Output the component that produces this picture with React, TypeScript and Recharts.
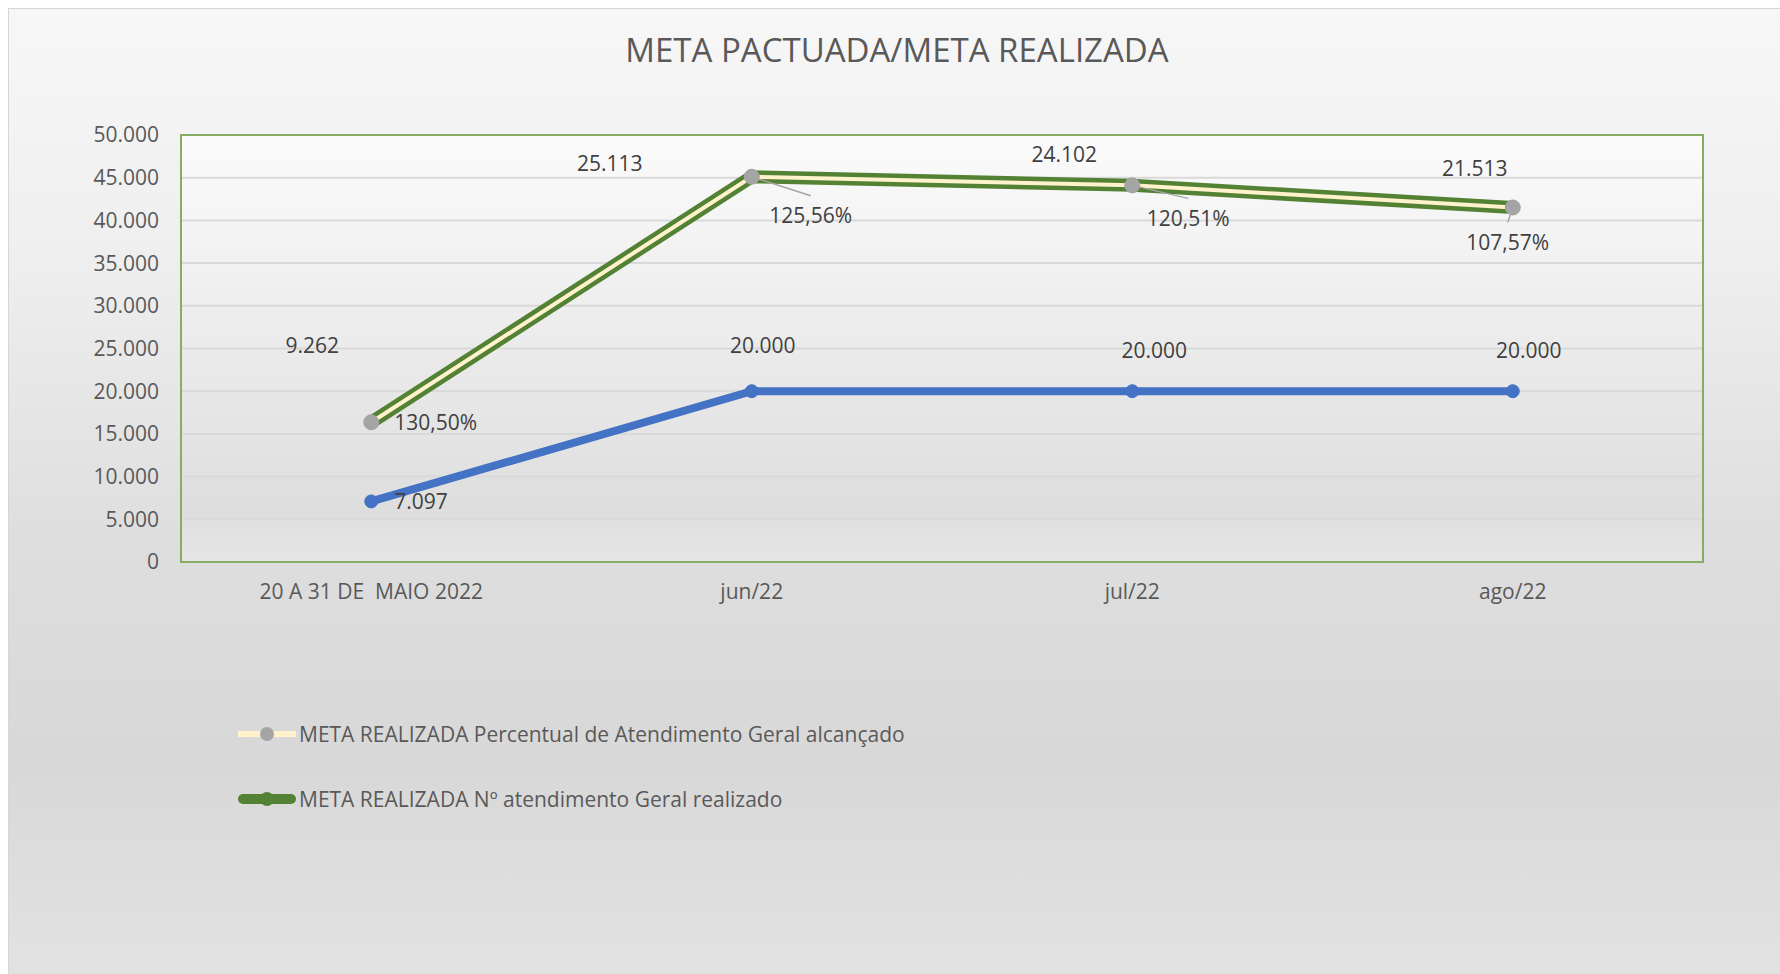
import {
  AreaChart, Area, XAxis, YAxis, CartesianGrid,
  Legend, LabelList, ReferenceArea,
} from "recharts";

const categories = ["20 A 31 DE  MAIO 2022", "jun/22", "jul/22", "ago/22"];
const metaPactuada = [7097, 20000, 20000, 20000];
const atendimentoRealizado = [9262, 25113, 24102, 21513];
const percentualAlcancado = [1.305, 1.2556, 1.2051, 1.0757];
const yTicks = [0, 5000, 10000, 15000, 20000, 25000, 30000, 35000, 40000, 45000, 50000];

const seriesNames = {
  pactuada: "META PACTUADA",
  realizado: "META REALIZADA Nº atendimento Geral realizado",
  percentual: "META REALIZADA Percentual de Atendimento Geral alcançado",
};

const data = categories.map((cat, i) => ({
  cat,
  pactuada: metaPactuada[i],
  realizado: atendimentoRealizado[i],
  percentual: percentualAlcancado[i],
}));

// hand-placed label offsets, as in the original sheet
const pactuadaNudge = [[23, 0], [11, -46], [22, -41], [16, -41]];
const realizadoNudge = [[-59, -77], [-142, -13], [-68, -31], [-38, -39]];
const percentNudge = [[23, 0], [59, 39], [56, 33], [-5, 35]];

const FONT = "'Open Sans', sans-serif";
const LABEL_COLOR = "#404040";
const TICK_COLOR = "#595959";

const fmtThousands = (v: number) => String(v).replace(/\B(?=(\d{3})+(?!\d))/g, ".");
const fmtPct = (v: number) => (v * 100).toFixed(2).replace(".", ",") + "%";

const pos = (p: any) => ({
  x: Number(p.x ?? p.viewBox?.x),
  y: Number(p.y ?? p.viewBox?.y),
});

const PactuadaLabel = (props: any) => {
  const { x, y } = pos(props);
  const i = props.index;
  const [dx, dy] = pactuadaNudge[i];
  return (
    <text
      x={x + dx}
      y={y + dy}
      dy="0.35em"
      textAnchor={i === 0 ? "start" : "middle"}
      fontSize={21}
      fontFamily={FONT}
      fill={LABEL_COLOR}
    >
      {fmtThousands(metaPactuada[i])}
    </text>
  );
};

const RealizadoLabel = (props: any) => {
  const { x, y } = pos(props);
  const i = props.index;
  const [dx, dy] = realizadoNudge[i];
  return (
    <text x={x + dx} y={y + dy} dy="0.35em" textAnchor="middle" fontSize={21} fontFamily={FONT} fill={LABEL_COLOR}>
      {fmtThousands(atendimentoRealizado[i])}
    </text>
  );
};

const PercentLabel = (props: any) => {
  const { x, y } = pos(props);
  const i = props.index;
  const [dx, dy] = percentNudge[i];
  const text = fmtPct(percentualAlcancado[i]);
  if (i === 0) {
    return (
      <text x={x + dx} y={y + dy} dy="0.35em" textAnchor="start" fontSize={21} fontFamily={FONT} fill={LABEL_COLOR}>
        {text}
      </text>
    );
  }
  return (
    <g>
      <line x1={x} y1={y} x2={x + dx} y2={y + dy - 20} stroke="#A5A5A5" strokeWidth={1.5} />
      <text x={x + dx} y={y + dy} dy="0.35em" textAnchor="middle" fontSize={21} fontFamily={FONT} fill={LABEL_COLOR}>
        {text}
      </text>
    </g>
  );
};

// Recharts' Text collapses repeated spaces, so draw the category ticks ourselves
const CategoryTick = (props: any) => {
  const { x, y, payload } = props;
  return (
    <text
      x={x}
      y={y}
      dy="0.71em"
      textAnchor="middle"
      fontSize={21}
      fontFamily={FONT}
      fill={TICK_COLOR}
      xmlSpace="preserve"
      style={{ whiteSpace: "pre" }}
    >
      {payload.value}
    </text>
  );
};

const LegendContent = ({ payload }: { payload?: any[] }) => {
  const items = (payload ?? []).filter((p) => p.type !== "none").slice().reverse();
  return (
    <div style={{ fontFamily: FONT }}>
      {items.map((item) => (
        <div key={item.dataKey} style={{ display: "flex", alignItems: "center", height: 30, marginBottom: 35 }}>
          <svg width={58} height={20} style={{ marginRight: 3 }}>
            {item.dataKey === "percentual" ? (
              <>
                <line x1={0} y1={10} x2={58} y2={10} stroke="#FFF2CC" strokeWidth={6} />
                <circle cx={29} cy={10} r={7} fill="#A5A5A5" />
              </>
            ) : (
              <>
                <line x1={5} y1={10} x2={53} y2={10} stroke="#548235" strokeWidth={10} strokeLinecap="round" />
                <circle cx={29} cy={10} r={7} fill="#548235" />
              </>
            )}
          </svg>
          <span style={{ fontSize: 21, color: TICK_COLOR, whiteSpace: "nowrap" }}>{item.value}</span>
        </div>
      ))}
    </div>
  );
};

export default function App() {
  return (
    <div
      style={{
        position: "absolute",
        left: 8,
        top: 8,
        width: 1771,
        height: 965,
        borderTop: "1px solid #d6d6d6",
        borderLeft: "1px solid #d6d6d6",
        background: "linear-gradient(180deg, #f7f7f7 0%, #efefef 25%, #dedede 55%, #d8d8d8 78%, #e2e2e2 100%)",
        fontFamily: FONT,
      }}
    >
      <div
        style={{
          position: "absolute",
          top: 24,
          left: 5,
          right: 0,
          textAlign: "center",
          fontSize: 33,
          lineHeight: "33px",
          color: TICK_COLOR,
        }}
      >
        META PACTUADA/META REALIZADA
      </div>
      <AreaChart
        width={1771}
        height={965}
        data={data}
        margin={{ top: 126, right: 77, left: 0, bottom: 372 }}
      >
        <defs>
          <linearGradient id="plotBg" x1="0" y1="0" x2="0" y2="1">
            <stop offset="0%" stopColor="#fbfbfb" />
            <stop offset="50%" stopColor="#ebebeb" />
            <stop offset="88%" stopColor="#dedede" />
            <stop offset="100%" stopColor="#e6e6e6" />
          </linearGradient>
        </defs>
        <CartesianGrid
          vertical={false}
          stroke="#d9d9d9"
          strokeWidth={2}
          fill="url(#plotBg)"
          fillOpacity={1}
        />
        <XAxis
          dataKey="cat"
          scale="band"
          height={40}
          axisLine={false}
          tickLine={false}
          tickMargin={16}
          tick={<CategoryTick />}
        />
        <YAxis
          domain={[0, 50000]}
          ticks={yTicks}
          width={172}
          axisLine={false}
          tickLine={false}
          tickMargin={16}
          tickFormatter={fmtThousands}
          tick={{ fontSize: 21, fill: TICK_COLOR, fontFamily: FONT }}
        />
        <ReferenceArea y1={0} y2={50000} fill="none" fillOpacity={0} stroke="#86AD62" strokeWidth={2} />
        <Area
          type="linear"
          dataKey="pactuada"
          name={seriesNames.pactuada}
          stackId="s"
          stroke="#4472C4"
          strokeWidth={8}
          fill="none"
          legendType="none"
          dot={{ r: 6.5, fill: "#4472C4", fillOpacity: 1, stroke: "#4472C4", strokeWidth: 1 }}
          activeDot={false}
          isAnimationActive={false}
        >
          <LabelList dataKey="pactuada" content={PactuadaLabel} />
        </Area>
        <Area
          type="linear"
          dataKey="realizado"
          name={seriesNames.realizado}
          stackId="s"
          stroke="#548235"
          strokeWidth={13}
          fill="none"
          dot={{ r: 7, fill: "#548235", fillOpacity: 1, stroke: "#548235", strokeWidth: 1 }}
          activeDot={false}
          isAnimationActive={false}
        >
          <LabelList dataKey="realizado" content={RealizadoLabel} />
        </Area>
        <Area
          type="linear"
          dataKey="percentual"
          name={seriesNames.percentual}
          stackId="s"
          stroke="#FFF2CC"
          strokeWidth={4}
          fill="none"
          dot={{ r: 7.5, fill: "#A5A5A5", fillOpacity: 1, stroke: "#A5A5A5", strokeWidth: 1 }}
          activeDot={false}
          isAnimationActive={false}
        >
          <LabelList dataKey="percentual" content={PercentLabel} />
        </Area>
        <Legend
          layout="vertical"
          align="center"
          verticalAlign="middle"
          content={<LegendContent />}
          wrapperStyle={{ left: 229, top: 710, width: 900 }}
        />
      </AreaChart>
    </div>
  );
}
